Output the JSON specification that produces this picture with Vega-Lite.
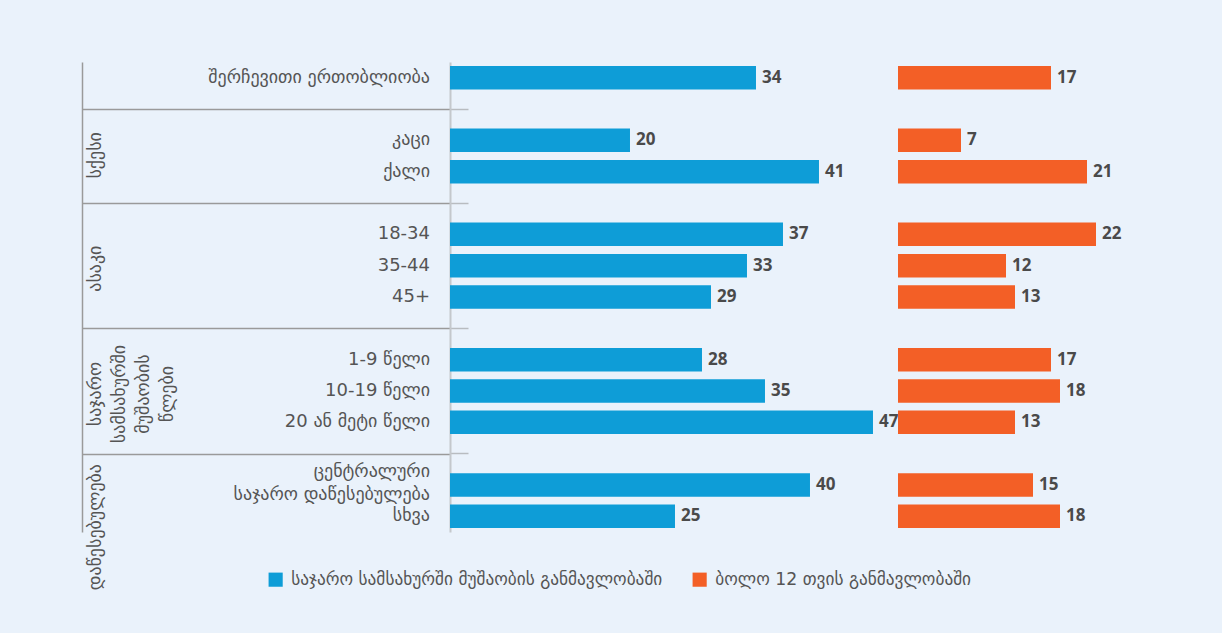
{
  "$schema": "https://vega.github.io/schema/vega-lite/v6.json",
  "background": "#eaf2fb",
  "padding": {"left": 82, "top": 62, "right": 72, "bottom": 45},
  "bounds": "flush",
  "spacing": 0,
  "config": {
    "view": {"stroke": null},
    "font": "DejaVu Sans",
    "text": {"font": "DejaVu Sans"},
    "legend": {"labelFont": "DejaVu Sans"}
  },
  "datasets": {
    "bars": [
      {"row": "შერჩევითი ერთობლიობა", "series": "საჯარო სამსახურში მუშაობის განმავლობაში", "value": 34},
      {"row": "კაცი", "series": "საჯარო სამსახურში მუშაობის განმავლობაში", "value": 20},
      {"row": "ქალი", "series": "საჯარო სამსახურში მუშაობის განმავლობაში", "value": 41},
      {"row": "18-34", "series": "საჯარო სამსახურში მუშაობის განმავლობაში", "value": 37},
      {"row": "35-44", "series": "საჯარო სამსახურში მუშაობის განმავლობაში", "value": 33},
      {"row": "45+", "series": "საჯარო სამსახურში მუშაობის განმავლობაში", "value": 29},
      {"row": "1-9 წელი", "series": "საჯარო სამსახურში მუშაობის განმავლობაში", "value": 28},
      {"row": "10-19 წელი", "series": "საჯარო სამსახურში მუშაობის განმავლობაში", "value": 35},
      {"row": "20 ან მეტი წელი", "series": "საჯარო სამსახურში მუშაობის განმავლობაში", "value": 47},
      {"row": "ცენტრალური\nსაჯარო დაწესებულება", "series": "საჯარო სამსახურში მუშაობის განმავლობაში", "value": 40},
      {"row": "სხვა", "series": "საჯარო სამსახურში მუშაობის განმავლობაში", "value": 25},
      {"row": "შერჩევითი ერთობლიობა", "series": "ბოლო 12 თვის განმავლობაში", "value": 17},
      {"row": "კაცი", "series": "ბოლო 12 თვის განმავლობაში", "value": 7},
      {"row": "ქალი", "series": "ბოლო 12 თვის განმავლობაში", "value": 21},
      {"row": "18-34", "series": "ბოლო 12 თვის განმავლობაში", "value": 22},
      {"row": "35-44", "series": "ბოლო 12 თვის განმავლობაში", "value": 12},
      {"row": "45+", "series": "ბოლო 12 თვის განმავლობაში", "value": 13},
      {"row": "1-9 წელი", "series": "ბოლო 12 თვის განმავლობაში", "value": 17},
      {"row": "10-19 წელი", "series": "ბოლო 12 თვის განმავლობაში", "value": 18},
      {"row": "20 ან მეტი წელი", "series": "ბოლო 12 თვის განმავლობაში", "value": 13},
      {"row": "ცენტრალური\nსაჯარო დაწესებულება", "series": "ბოლო 12 თვის განმავლობაში", "value": 15},
      {"row": "სხვა", "series": "ბოლო 12 თვის განმავლობაში", "value": 18}
    ]
  },
  "hconcat": [
    {
      "width": 368,
      "height": 470,
      "data": {"name": "bars"},
      "layer": [
        {
          "transform": [
            {"filter": {"field": "series", "equal": "საჯარო სამსახურში მუშაობის განმავლობაში"}},
            {"filter": "indexof(datum.row, '\\n') < 0"}
          ],
          "mark": {"type": "text", "align": "right", "baseline": "middle", "dx": -20, "fontSize": 18, "color": "#555555"},
          "encoding": {
            "y": {
              "field": "row", "type": "nominal",
              "scale": {"domain": ["შერჩევითი ერთობლიობა", "g1", "კაცი", "ქალი", "g2", "18-34", "35-44", "45+", "g3", "1-9 წელი", "10-19 წელი", "20 ან მეტი წელი", "g4", "ცენტრალური\nსაჯარო დაწესებულება", "სხვა"], "paddingInner": 0.25, "paddingOuter": 0.125},
              "axis": {"values": ["g1", "g2", "g3", "g4"], "grid": true, "gridColor": "#9a9a9a", "gridWidth": 1.5, "labels": false, "ticks": false, "domain": true, "domainColor": "#9a9a9a", "domainWidth": 1.5, "title": null}
            },
            "x": {"value": "width"},
            "text": {"field": "row"}
          }
        },
        {
          "transform": [
            {"filter": {"field": "series", "equal": "საჯარო სამსახურში მუშაობის განმავლობაში"}},
            {"filter": "indexof(datum.row, '\\n') >= 0"}
          ],
          "mark": {"type": "text", "align": "right", "baseline": "middle", "dx": -20, "dy": -13, "fontSize": 18, "color": "#555555", "lineBreak": "\n", "lineHeight": 23},
          "encoding": {
            "y": {"field": "row", "type": "nominal"},
            "x": {"value": "width"},
            "text": {"field": "row"}
          }
        },
        {
          "data": {"values": [{"group": "ასაკი", "at": "35-44"}, {"group": "საჯარო\nსამსახურში\nმუშაობის\nწლები", "at": "10-19 წელი"}]},
          "mark": {"type": "text", "angle": 270, "align": "center", "baseline": "top", "dy": 5, "dx": -3, "fontSize": 18, "color": "#555555", "lineBreak": "\n", "lineHeight": 24},
          "encoding": {"y": {"field": "at", "type": "nominal"}, "x": {"value": 0}, "text": {"field": "group"}}
        },
        {
          "data": {"values": [{"group": "სქესი", "at": "კაცი"}]},
          "mark": {"type": "text", "angle": 270, "align": "center", "baseline": "top", "dy": 5, "dx": -15, "fontSize": 18, "color": "#555555"},
          "encoding": {"y": {"field": "at", "type": "nominal"}, "x": {"value": 0}, "text": {"field": "group"}}
        },
        {
          "data": {"values": [{"group": "დაწესებულება", "at": "ცენტრალური\nსაჯარო დაწესებულება"}]},
          "mark": {"type": "text", "angle": 270, "align": "right", "baseline": "top", "dy": 5, "dx": 21, "fontSize": 18, "color": "#555555"},
          "encoding": {"y": {"field": "at", "type": "nominal"}, "x": {"value": 0}, "text": {"field": "group"}}
        }
      ]
    },
    {
      "width": 448,
      "height": 470,
      "data": {"name": "bars"},
      "transform": [{"filter": {"field": "series", "equal": "საჯარო სამსახურში მუშაობის განმავლობაში"}}],
      "encoding": {
        "y": {
          "field": "row", "type": "nominal",
          "scale": {"domain": ["შერჩევითი ერთობლიობა", "g1", "კაცი", "ქალი", "g2", "18-34", "35-44", "45+", "g3", "1-9 წელი", "10-19 წელი", "20 ან მეტი წელი", "g4", "ცენტრალური\nსაჯარო დაწესებულება", "სხვა"], "paddingInner": 0.25, "paddingOuter": 0.125},
          "axis": {"values": ["g1", "g2", "g3", "g4"], "labels": false, "ticks": true, "tickSize": -18, "tickColor": "#b8bcc0", "tickWidth": 1.5, "domain": true, "domainColor": "#c4c8cc", "domainWidth": 2, "grid": false, "title": null}
        },
        "x": {"field": "value", "type": "quantitative", "scale": {"domain": [0, 49.78], "nice": false}, "axis": null}
      },
      "layer": [
        {
          "mark": {"type": "bar"},
          "encoding": {
            "color": {
              "field": "series", "type": "nominal",
              "scale": {"domain": ["საჯარო სამსახურში მუშაობის განმავლობაში", "ბოლო 12 თვის განმავლობაში"], "range": ["#0e9dd7", "#f35f26"]},
              "legend": {"orient": "none", "legendX": 185, "legendY": 509, "direction": "horizontal", "title": null, "symbolType": "square", "symbolSize": 200, "symbolStrokeWidth": 0, "labelFontSize": 17.3, "labelColor": "#555555", "labelOffset": 7, "columnPadding": 28, "labelLimit": 500}
            }
          }
        },
        {
          "mark": {"type": "text", "align": "left", "baseline": "middle", "dx": 6, "fontSize": 17, "fontWeight": "bold", "color": "#4a4a4a", "font": "Open Sans"},
          "encoding": {"text": {"field": "value", "type": "quantitative"}}
        }
      ]
    },
    {
      "width": 252,
      "height": 470,
      "data": {"name": "bars"},
      "transform": [{"filter": {"field": "series", "equal": "ბოლო 12 თვის განმავლობაში"}}],
      "encoding": {
        "y": {
          "field": "row", "type": "nominal",
          "scale": {"domain": ["შერჩევითი ერთობლიობა", "g1", "კაცი", "ქალი", "g2", "18-34", "35-44", "45+", "g3", "1-9 წელი", "10-19 წელი", "20 ან მეტი წელი", "g4", "ცენტრალური\nსაჯარო დაწესებულება", "სხვა"], "paddingInner": 0.25, "paddingOuter": 0.125},
          "axis": null
        },
        "x": {"field": "value", "type": "quantitative", "scale": {"domain": [0, 28], "nice": false}, "axis": null}
      },
      "layer": [
        {
          "mark": {"type": "bar"},
          "encoding": {
            "color": {"field": "series", "type": "nominal", "scale": {"domain": ["საჯარო სამსახურში მუშაობის განმავლობაში", "ბოლო 12 თვის განმავლობაში"], "range": ["#0e9dd7", "#f35f26"]}}
          }
        },
        {
          "mark": {"type": "text", "align": "left", "baseline": "middle", "dx": 6, "fontSize": 17, "fontWeight": "bold", "color": "#4a4a4a", "font": "Open Sans"},
          "encoding": {"text": {"field": "value", "type": "quantitative"}}
        }
      ]
    }
  ],
  "resolve": {"scale": {"x": "independent", "y": "independent", "color": "shared"}}
}
